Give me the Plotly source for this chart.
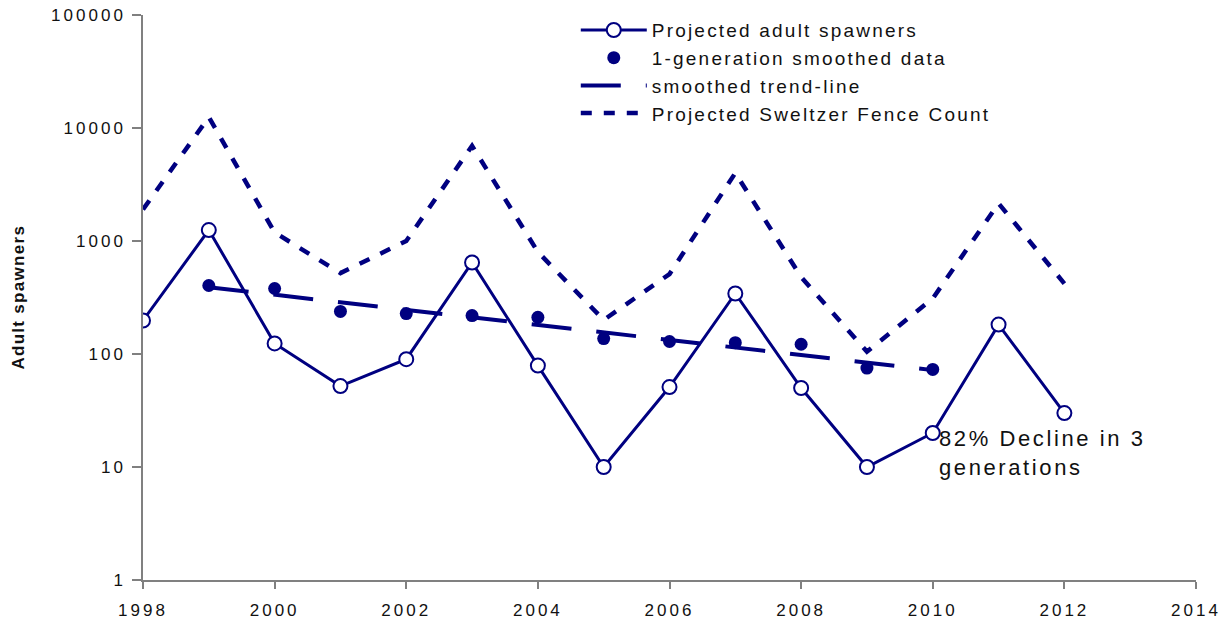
import plotly.graph_objects as go

years = list(range(1998, 2013))
spawners = [198, 1250, 124, 52, 90, 645, 79, 10, 51, 343, 50, 10, 20, 182, 30]

smooth_years = list(range(1999, 2011))
smoothed = [404, 380, 238, 228, 219, 211, 137, 129, 126, 122, 75, 73]

trend_years = [1999, 2010]
trend = [390, 72]

fence = [1900, 12500, 1190, 520, 1000, 6950, 800, 200, 510, 4000, 480, 105, 310, 2150, 420]

x_ticks = list(range(1998, 2015, 2))
y_ticks = [1, 10, 100, 1000, 10000, 100000]
y_tick_text = ["1", "10", "100", "1000", "10000", "100000"]

NAVY = "#000080"
AXIS = "#808080"
FONT = "Liberation Sans, Arial, sans-serif"

fig = go.Figure()
fig.add_trace(go.Scatter(
    x=years, y=spawners, name="Projected adult spawners", mode="lines+markers",
    line=dict(color=NAVY, width=3),
    marker=dict(symbol="circle", size=14, color="white", line=dict(color=NAVY, width=2)),
))
fig.add_trace(go.Scatter(
    x=smooth_years, y=smoothed, name="1-generation smoothed data", mode="markers",
    marker=dict(symbol="circle", size=13, color=NAVY),
))
fig.add_trace(go.Scatter(
    x=trend_years, y=trend, name="smoothed trend-line", mode="lines",
    line=dict(color=NAVY, width=4, dash="40px,25px"),
))
fig.add_trace(go.Scatter(
    x=years, y=fence, name="Projected Sweltzer Fence Count", mode="lines",
    line=dict(color=NAVY, width=4.5, dash="11px,12px"),
))

fig.add_annotation(
    x=2010.07, y=1.378, xref="x", yref="y",
    text="82% Decline in 3<br>generations", showarrow=False,
    xanchor="left", yanchor="top", align="left",
    font=dict(family=FONT, size=22, color="#111111"),
)
fig.add_annotation(
    x=-0.1187, y=0.5, xref="paper", yref="paper",
    text="<b>Adult spawners</b>", showarrow=False, textangle=-90,
    xanchor="center", yanchor="middle",
    font=dict(family=FONT, size=17, color="#111111"),
)

fig.update_layout(
    width=1230, height=624,
    margin=dict(l=143, r=34, t=14, b=44),
    plot_bgcolor="white", paper_bgcolor="white",
    font=dict(family=FONT, color="#111111"),
    showlegend=True,
    legend=dict(
        x=0.411, y=1.005, xanchor="left", yanchor="top",
        bgcolor="rgba(0,0,0,0)", font=dict(family=FONT, size=19, color="#111111"),
        itemwidth=66, tracegroupgap=0,
    ),
    xaxis=dict(
        range=[1998, 2014], tickmode="array", tickvals=x_ticks,
        showgrid=False, zeroline=False, showline=True, linecolor=AXIS, linewidth=1.5,
        ticks="outside", ticklen=7, tickcolor=AXIS, tickwidth=1.5,
        ticklabelstandoff=7, automargin=False,
        tickfont=dict(family=FONT, size=17, color="#111111"),
    ),
    yaxis=dict(
        type="log", range=[0, 5], tickmode="array",
        tickvals=y_ticks, ticktext=y_tick_text,
        showgrid=False, zeroline=False, showline=True, linecolor=AXIS, linewidth=1.5,
        ticks="outside", ticklen=9, tickcolor=AXIS, tickwidth=1.5,
        ticklabelstandoff=3, automargin=False,
        tickfont=dict(family=FONT, size=17, color="#111111"),
    ),
)

post = """
document.body.style.margin = '0';
document.body.style.overflow = 'hidden';
function sp(sel, v){ document.querySelectorAll(sel).forEach(function(e){ e.style.letterSpacing = v; }); }
sp('.xtick text', '3px');
sp('.ytick text', '3px');
sp('.legendtext', '2.2px');
var ann = document.querySelectorAll('.annotation-text');
if (ann.length > 0) { ann[0].style.letterSpacing = '2.6px'; }
if (ann.length > 1) { ann[1].style.letterSpacing = '1.3px'; }
document.querySelectorAll('.legend [clip-path]').forEach(function(e){ e.removeAttribute('clip-path'); });
document.querySelectorAll('.legend').forEach(function(e){ e.removeAttribute('clip-path'); });
"""

fig.write_html("out.html", post_script=post, config={"displayModeBar": False})
